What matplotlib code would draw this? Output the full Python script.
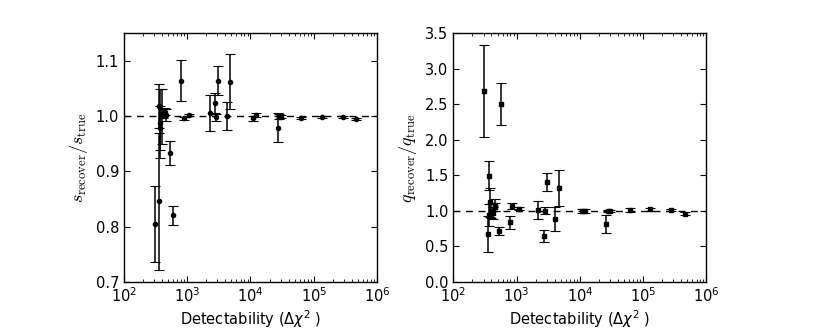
import matplotlib
matplotlib.use("Agg")
import matplotlib.pyplot as plt
from matplotlib.ticker import LogLocator, FixedLocator

plt.rcParams['font.family'] = ['DejaVu Sans']
plt.rcParams['mathtext.fontset'] = 'dejavusans'

# Left panel: s_recover / s_true
s_x = [310, 362, 355, 370, 375, 400, 420, 450, 460, 541, 590, 795, 880, 1080,
       2270, 2760, 2850, 3100, 4200, 4800, 11100, 12200, 27000, 28500, 30500,
       63000, 134000, 285000, 473000]
s_y = [0.804, 0.846, 1.018, 0.978, 0.987, 1.000, 1.005, 1.008, 1.002, 0.933, 0.820,
       1.064, 0.996, 1.002, 1.006, 1.023, 0.998, 1.064, 1.000, 1.062, 0.996, 1.002,
       0.979, 0.999, 0.999, 0.996, 0.999, 0.998, 0.995]
s_err = [0.069, 0.124, 0.040, 0.040, 0.063, 0.050, 0.008, 0.006, 0.010, 0.021, 0.018,
         0.037, 0.003, 0.002, 0.033, 0.018, 0.006, 0.026, 0.025, 0.050, 0.004, 0.003,
         0.026, 0.004, 0.003, 0.002, 0.002, 0.002, 0.002]

# Right panel: q_recover / q_true
q_x = [303, 350, 372, 380, 365, 400, 420, 450, 460, 527, 569, 776, 860, 1080,
       2190, 2720, 2790, 3040, 4070, 4700, 10900, 12100, 26100, 28000, 30000,
       62500, 130000, 275000, 468000]
q_y = [2.69, 0.672, 1.494, 1.118, 0.94, 1.00, 0.97, 1.08, 1.05, 0.714, 2.504,
       0.837, 1.071, 1.029, 1.01, 0.644, 1.00, 1.405, 0.883, 1.32, 1.00, 1.00,
       0.813, 0.996, 0.996, 1.01, 1.02, 1.01, 0.958]
q_err = [0.65, 0.26, 0.20, 0.20, 0.15, 0.10, 0.08, 0.08, 0.06, 0.055, 0.29,
         0.09, 0.04, 0.02, 0.125, 0.09, 0.05, 0.13, 0.17, 0.26, 0.03, 0.03,
         0.12, 0.02, 0.02, 0.03, 0.02, 0.02, 0.02]

fig = plt.figure(figsize=(8.3, 3.32), dpi=100)
ax1 = fig.add_axes([0.1494, 0.1515, 0.3048, 0.7482])
ax2 = fig.add_axes([0.5462, 0.1515, 0.3048, 0.7482])

def style(ax):
    ax.set_xscale('log')
    ax.set_xlim(1e2, 1e6)
    ax.xaxis.set_major_locator(LogLocator(base=10, numticks=10))
    ax.xaxis.set_minor_locator(LogLocator(base=10, subs=range(2, 10), numticks=20))
    ax.tick_params(which='both', direction='in', top=True, right=True, labelsize=10.5)
    ax.tick_params(which='major', length=4, width=0.8)
    ax.tick_params(which='minor', length=2, width=0.6)
    for sp in ax.spines.values():
        sp.set_linewidth(1.0)
    ax.axhline(1.0, color='k', ls='--', lw=1.0, dashes=(5, 4), zorder=1)
    ax.set_xlabel(r'Detectability ($\Delta\chi^2$ )', fontsize=10.5, labelpad=2)

ax1.errorbar(s_x, s_y, yerr=s_err, fmt='o', color='k', ms=3.0, capsize=3.5,
             elinewidth=1.1, capthick=0.8, ecolor='k', zorder=3)
style(ax1)
ax1.set_ylim(0.7, 1.15)
ax1.yaxis.set_major_locator(FixedLocator([0.7, 0.8, 0.9, 1.0, 1.1]))
ax1.set_ylabel(r'$s_{\rm recover}/s_{\rm true}$', fontsize=13, labelpad=4,
               math_fontfamily='cm')

ax2.errorbar(q_x, q_y, yerr=q_err, fmt='s', color='k', ms=3.0, capsize=3.5,
             elinewidth=1.1, capthick=0.8, ecolor='k', zorder=3)
style(ax2)
ax2.set_ylim(0.0, 3.5)
ax2.yaxis.set_major_locator(FixedLocator([0.0, 0.5, 1.0, 1.5, 2.0, 2.5, 3.0, 3.5]))
ax2.set_ylabel(r'$q_{\rm recover}/q_{\rm true}$', fontsize=13, labelpad=4,
               math_fontfamily='cm')

fig.savefig('out.png', dpi=100, facecolor='white')
